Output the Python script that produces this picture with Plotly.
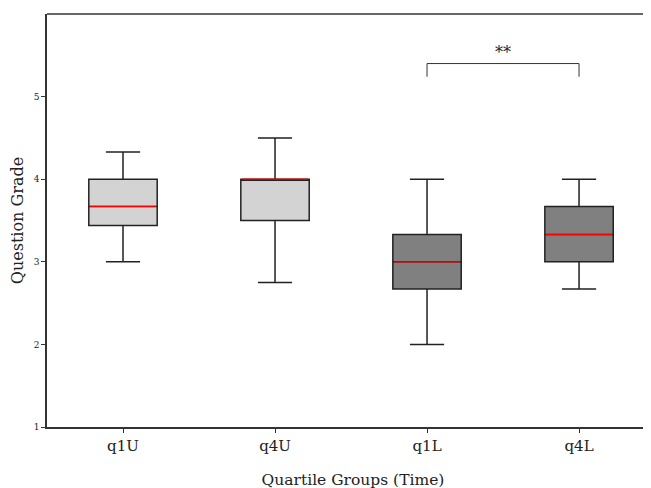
import plotly.graph_objects as go

groups = ["q1U", "q4U", "q1L", "q4L"]
lower = [3.0, 2.75, 2.0, 2.67]
q1 = [3.44, 3.5, 2.67, 3.0]
median = [3.67, 4.0, 3.0, 3.33]
q3 = [4.0, 4.0, 3.33, 3.67]
upper = [4.33, 4.5, 4.0, 4.0]
fills = ["#d3d3d3", "#d3d3d3", "#808080", "#808080"]
sig_pair = (3, 4)
sig_label = "**"
sig_y = 5.40
sig_leg = 5.24

positions = [1, 2, 3, 4]
box_w = 0.45
font = "DejaVu Serif"

fig = go.Figure()
for i, g in enumerate(groups):
    fig.add_trace(go.Box(
        x=[positions[i]], q1=[q1[i]], median=[median[i]], q3=[q3[i]],
        lowerfence=[lower[i]], upperfence=[upper[i]],
        width=box_w, whiskerwidth=0.5,
        fillcolor=fills[i], line=dict(color="#222222", width=1.5),
        boxpoints=False, showlegend=False, hoverinfo="skip", name=g,
    ))
    fig.add_trace(go.Scatter(
        x=[positions[i] - box_w / 2 + 0.008, positions[i] + box_w / 2 - 0.008],
        y=[median[i], median[i]], mode="lines",
        line=dict(color="#ff0000", width=1.2), showlegend=False, hoverinfo="skip",
    ))

a, b = sig_pair
fig.add_trace(go.Scatter(
    x=[a, a, b, b], y=[sig_leg, sig_y, sig_y, sig_leg], mode="lines",
    line=dict(color="#333333", width=1), showlegend=False, hoverinfo="skip",
))
fig.add_annotation(x=(a + b) / 2, y=sig_y, text=sig_label, showarrow=False,
                   yanchor="bottom", yshift=0, font=dict(family=font, size=16, color="#222"))

fig.add_shape(type="line", xref="paper", yref="paper", x0=0, x1=1, y0=1, y1=1,
              line=dict(color="#333333", width=1.5))

fig.update_layout(
    width=651, height=488,
    margin=dict(l=39, r=0, t=6, b=69, autoexpand=False),
    plot_bgcolor="white", paper_bgcolor="white",
    font=dict(family=font, color="#222"),
    xaxis=dict(range=[0.5, 4.526], tickvals=positions, ticktext=groups, automargin=False,
               showgrid=False, zeroline=False, showline=True, linecolor="#333333",
               linewidth=1.5, ticks="outside", ticklen=4, tickcolor="#333",
               tickfont=dict(family=font, size=15),
               title=dict(text="Quartile Groups (Time)", font=dict(family=font, size=15.5), standoff=20)),
    yaxis=dict(range=[1, 6], tickvals=[1, 2, 3, 4, 5], automargin=False,
               showgrid=False, zeroline=False, showline=True, linecolor="#333333",
               linewidth=1.5, ticks="outside", ticklen=4, tickcolor="#333",
               tickfont=dict(family=font, size=9),
               title=dict(text="Question Grade", font=dict(family=font, size=16), standoff=7)),
)

fig.write_html("out.html")
